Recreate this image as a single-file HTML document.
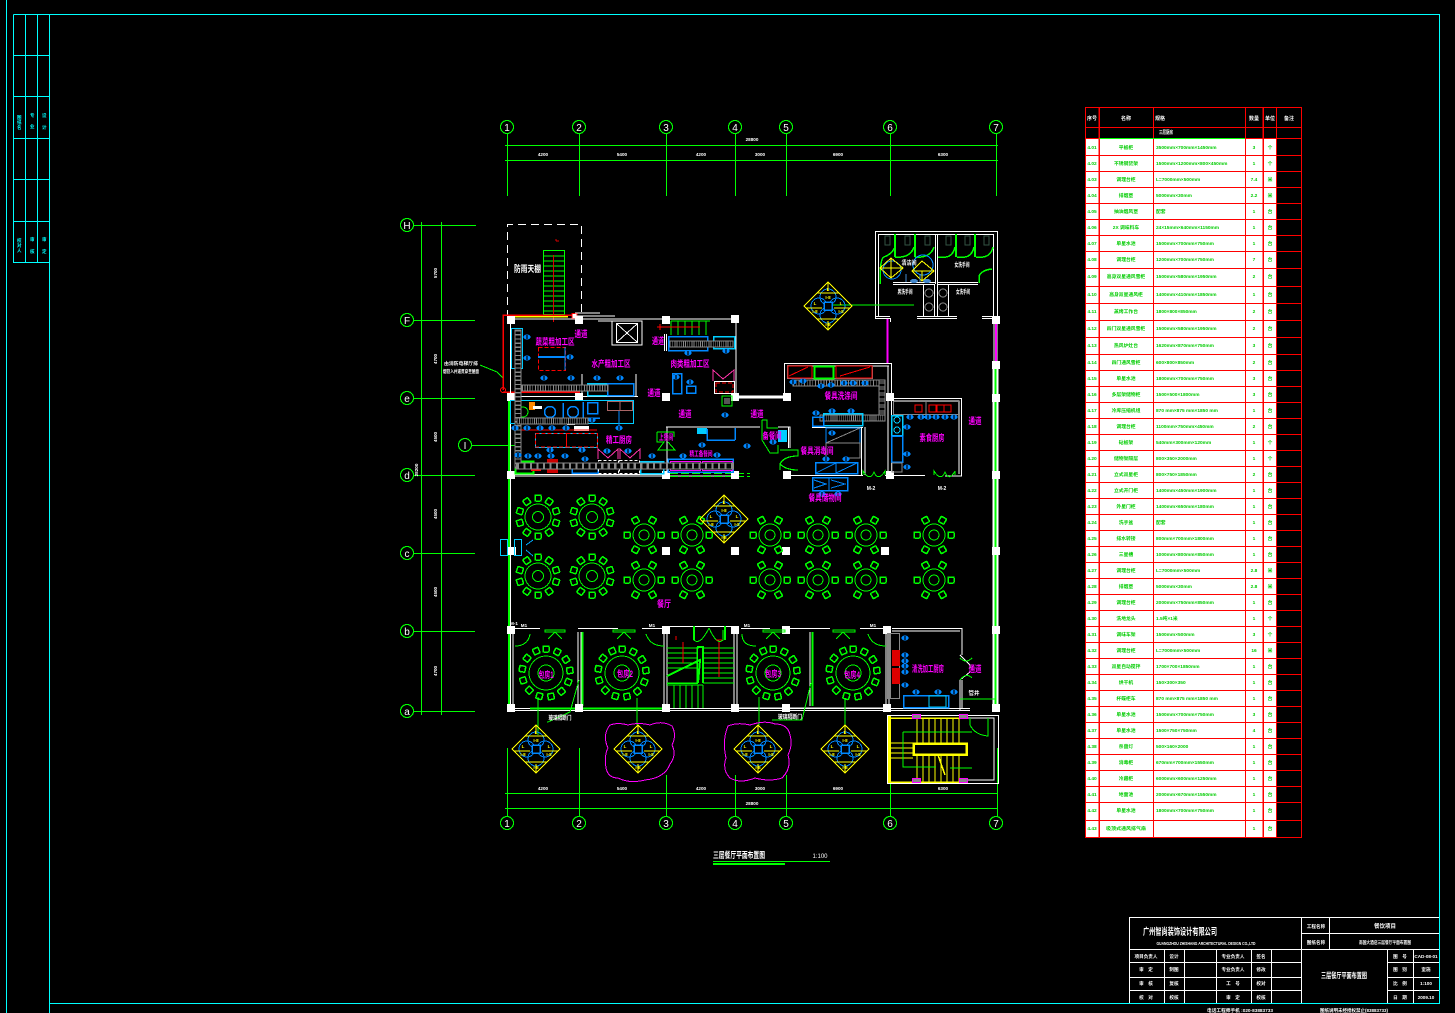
<!DOCTYPE html>
<html><head><meta charset="utf-8"><style>
html,body{margin:0;padding:0;background:#000}
svg{display:block}
text{font-family:"Liberation Sans","Noto Sans CJK SC",sans-serif;stroke:none}
.m{fill:#f0f;font-size:9px;font-weight:700;text-anchor:middle}
.w{fill:#fff;font-size:4.6px;font-weight:700;text-anchor:middle}
.g{fill:#0c0;font-size:4.8px;font-weight:700}
.c{text-anchor:middle}
.a{fill:#fff;font-size:10px;text-anchor:middle}
.y{fill:#ff0;font-size:4.5px;font-weight:700;text-anchor:middle}
</style></head><body>
<svg xmlns="http://www.w3.org/2000/svg" width="1455" height="1013" viewBox="0 0 1455 1013" shape-rendering="crispEdges" fill="none">
<defs>
<g id="s"><ellipse rx="3.5" ry="2.5" fill="#08f"/><rect x="-1" y="-2" width="2" height="4" fill="#036"/></g>
<g id="ladh"><rect x="0" y="0" width="100" height="6" fill="#000" stroke="#888"/><path d="M0 3H100" stroke="#888" stroke-width="5" stroke-dasharray="1 2"/></g>
<g id="ch" ><rect x="-3" y="-3" width="6" height="6" rx="1" stroke="#0f0" stroke-width="1.5"/></g>
<g id="t10"><circle r="13" stroke="#0f0"/><circle r="5.5" stroke="#0f0"/>
<use href="#ch" transform="rotate(0) translate(0,-19)"/><use href="#ch" transform="rotate(36) translate(0,-19)"/><use href="#ch" transform="rotate(72) translate(0,-19)"/><use href="#ch" transform="rotate(108) translate(0,-19)"/><use href="#ch" transform="rotate(144) translate(0,-19)"/><use href="#ch" transform="rotate(180) translate(0,-19)"/><use href="#ch" transform="rotate(216) translate(0,-19)"/><use href="#ch" transform="rotate(252) translate(0,-19)"/><use href="#ch" transform="rotate(288) translate(0,-19)"/><use href="#ch" transform="rotate(324) translate(0,-19)"/></g>
<g id="t8"><circle r="11" stroke="#0f0"/><circle r="5" stroke="#0f0"/>
<use href="#ch" transform="rotate(30) translate(0,-17)"/><use href="#ch" transform="rotate(90) translate(0,-17)"/><use href="#ch" transform="rotate(150) translate(0,-17)"/><use href="#ch" transform="rotate(210) translate(0,-17)"/><use href="#ch" transform="rotate(270) translate(0,-17)"/><use href="#ch" transform="rotate(330) translate(0,-17)"/></g>
<g id="t12"><circle r="17" stroke="#0f0"/><circle r="8" stroke="#0f0"/>
<use href="#ch" transform="rotate(0) translate(0,-24)"/><use href="#ch" transform="rotate(28) translate(0,-24)"/><use href="#ch" transform="rotate(56) translate(0,-24)"/><use href="#ch" transform="rotate(84) translate(0,-24)"/><use href="#ch" transform="rotate(112) translate(0,-24)"/><use href="#ch" transform="rotate(140) translate(0,-24)"/><use href="#ch" transform="rotate(168) translate(0,-24)"/><use href="#ch" transform="rotate(196) translate(0,-24)"/><use href="#ch" transform="rotate(224) translate(0,-24)"/><use href="#ch" transform="rotate(252) translate(0,-24)"/><use href="#ch" transform="rotate(280) translate(0,-24)"/><use href="#ch" transform="rotate(308) translate(0,-24)"/><use href="#ch" transform="rotate(336) translate(0,-24)"/></g>
<g id="dia"><circle cx="-9" cy="0" r="8" stroke="#08f"/><circle cx="9" cy="0" r="8" stroke="#08f"/><circle cx="0" cy="-9" r="8" stroke="#08f"/><circle cx="0" cy="9" r="8" stroke="#08f"/><rect x="-4" y="-4" width="8" height="8" fill="#000" stroke="#08f" stroke-width="1.5"/>
<polygon points="0,-24 24,0 0,24 -24,0" stroke="#ff0"/><path d="M-11 -13H11M-11 13H11M-22 2H-6M6 2H22M0 -24V-15M0 15V24" stroke="#ff0"/>
<text class="y" x="0" y="-15">L</text><text class="y" x="0" y="-7">I-8</text><text class="y" x="-13" y="-1">L</text><text class="y" x="-13" y="7">I-8</text><text class="y" x="13" y="-1">L</text><text class="y" x="13" y="7">I-8</text><text class="y" x="0" y="20">I-8</text></g>
<g id="col"><rect x="-4" y="-4" width="8" height="8" fill="#fff"/></g>
<g id="ax"><circle r="6.5" stroke="#0f0" stroke-width="1.2"/></g>
</defs>
<rect width="1455" height="1013" fill="#000"/>

<!-- outer frame -->
<g stroke="#0ff">
<path d="M6.5 0V1013M13.5 14.5H1439.5V1003.5H49.5M49.5 14.5V1013M13.5 14.5V262.5H49.5M25.5 14.5V262.5M37.5 14.5V262.5M13.5 55.5H49.5M13.5 96.5H49.5M13.5 138.5H49.5M13.5 179.5H49.5M13.5 221.5H49.5"/>
</g>
<g font-size="4.5" font-weight="700">
<text x="17" y="119" style="fill:#0ff">图</text><text x="17" y="124" style="fill:#0ff">纸</text><text x="17" y="129" style="fill:#0ff">名</text><text x="30" y="117" style="fill:#0ff">专</text><text x="30" y="128" style="fill:#0ff">业</text><text x="42" y="117" style="fill:#0ff">设</text><text x="42" y="129" style="fill:#0ff">计</text>
<text x="17" y="242" style="fill:#0ff">校</text><text x="17" y="247" style="fill:#0ff">对</text><text x="17" y="252" style="fill:#0ff">人</text><text x="30" y="241" style="fill:#0ff">审</text><text x="30" y="253" style="fill:#0ff">核</text><text x="42" y="241" style="fill:#0ff">审</text><text x="42" y="253" style="fill:#0ff">定</text>
</g>

<!-- axes -->
<g stroke="#0f0">
<path d="M505 145.5H998M505 160.5H998M505 793.5H998M505 808.5H998"/>
<path d="M507.5 134V196M579.5 134V196M666.5 134V196M735.5 134V196M786.5 134V196M890.5 134V196M996.5 134V196"/>
<path d="M507.5 748V816M579.5 748V816M666.5 775V816M735.5 775V816M786.5 775V816M890.5 783V816M997.5 748V816"/>
<path d="M414 225.5H476M414 320.5H475M414 398.5H475M414 475.5H475M414 553.5H475M414 631.5H475M414 711.5H475"/>
<path d="M421.5 222V715M441.5 222V715"/>
<path d="M472 445.5H515" stroke-width="1"/>
</g>
<g>
<use href="#ax" x="507" y="127"/><use href="#ax" x="579" y="127"/><use href="#ax" x="666" y="127"/><use href="#ax" x="735" y="127"/><use href="#ax" x="786" y="127"/><use href="#ax" x="890" y="127"/><use href="#ax" x="996" y="127"/>
<use href="#ax" x="507" y="823"/><use href="#ax" x="579" y="823"/><use href="#ax" x="666" y="823"/><use href="#ax" x="735" y="823"/><use href="#ax" x="786" y="823"/><use href="#ax" x="890" y="823"/><use href="#ax" x="996" y="823"/>
<use href="#ax" x="407" y="225"/><use href="#ax" x="407" y="320"/><use href="#ax" x="407" y="398"/><use href="#ax" x="407" y="475"/><use href="#ax" x="407" y="553"/><use href="#ax" x="407" y="631"/><use href="#ax" x="407" y="711"/>
<use href="#ax" x="465" y="445"/>
</g>
<g class="a">
<text class="a" x="507" y="131">1</text><text class="a" x="579" y="131">2</text><text class="a" x="666" y="131">3</text><text class="a" x="735" y="131">4</text><text class="a" x="786" y="131">5</text><text class="a" x="890" y="131">6</text><text class="a" x="996" y="131">7</text>
<text class="a" x="507" y="827">1</text><text class="a" x="579" y="827">2</text><text class="a" x="666" y="827">3</text><text class="a" x="735" y="827">4</text><text class="a" x="786" y="827">5</text><text class="a" x="890" y="827">6</text><text class="a" x="996" y="827">7</text>
<text class="a" x="407" y="229">H</text><text class="a" x="407" y="324">F</text><text class="a" x="407" y="402">e</text><text class="a" x="407" y="479">d</text><text class="a" x="407" y="557">c</text><text class="a" x="407" y="635">b</text><text class="a" x="407" y="715">a</text><text class="a" x="465" y="449">I</text>
</g>
<g class="w">
<text class="w" x="752" y="141">28800</text>
<text class="w" x="543" y="156">4200</text><text class="w" x="622" y="156">5400</text><text class="w" x="701" y="156">4200</text><text class="w" x="760" y="156">3000</text><text class="w" x="838" y="156">6900</text><text class="w" x="943" y="156">6300</text>
<text class="w" x="543" y="790">4200</text><text class="w" x="622" y="790">5400</text><text class="w" x="701" y="790">4200</text><text class="w" x="760" y="790">3000</text><text class="w" x="838" y="790">6900</text><text class="w" x="943" y="790">6300</text>
<text class="w" x="752" y="805">28800</text>
<text class="w" transform="translate(437,273) rotate(-90)">5700</text><text class="w" transform="translate(437,359) rotate(-90)">4700</text><text class="w" transform="translate(437,437) rotate(-90)">4500</text><text class="w" transform="translate(437,514) rotate(-90)">4500</text><text class="w" transform="translate(437,592) rotate(-90)">4500</text><text class="w" transform="translate(437,671) rotate(-90)">4700</text><text class="w" transform="translate(418,470) rotate(-90)">28200</text>
<text class="w" x="461" y="365" textLength="34" lengthAdjust="spacingAndGlyphs">由消防电梯厅排</text><text class="w" x="461" y="373" textLength="36" lengthAdjust="spacingAndGlyphs">烟管入井道贯穿至屋面</text>
</g>
<path d="M480 365 L497 372 L503 378" stroke="#0f0"/>

<!-- fire stair outside -->
<g>
<path d="M507.5 318V224.5H581.5V318" stroke="#fff" stroke-dasharray="8 5"/>
<rect x="543.5" y="250.5" width="21" height="64" stroke="#0f0"/>
<path d="M544 256H565M544 261H565M544 266H565M544 271H565M544 276H565M544 281H565M544 286H565M544 291H565M544 296H565M544 301H565M544 306H565M544 311H565" stroke="#0f0"/>
<path d="M553.5 255V322M556 241H559M556 241V239" stroke="#d00"/>
<text x="527.5" y="272" style="fill:#fff;font-size:9px;font-weight:700" text-anchor="middle" textLength="27" lengthAdjust="spacingAndGlyphs">防雨天棚</text>
</g>

<!-- red routing -->
<path d="M503 390V315H573" stroke="#f00" stroke-width="1.5"/>
<path d="M511 316.5H568" stroke="#ff0" stroke-width="1.5"/>
<rect x="572" y="313.5" width="5" height="5" fill="#fff" stroke="#f00"/>
<circle cx="503" cy="390" r="2.5" stroke="#f00"/>
<path d="M503 392H580" stroke="#f00" stroke-width="1.5"/>

<!-- white walls -->
<g stroke="#fff">
<path d="M510.5 319H736V397M575 313H600M575 316H615M598 321H642V345H612V321"/>
<path d="M510.5 318V710"/>
<path d="M582 374V397M636 374V397M512 396.5H638"/>
<path d="M666.5 334V351M664.5 334V351"/>
<path d="M735 397.5H784M735 396H784" stroke-width="1.5"/>
<path d="M666 427H760M667 427V475M666 476H736M512 476H666M512 474.5H666"/>
<path d="M784.5 397V363.5H891.5V475M888 366V475M787 366H889"/>
<path d="M890 398.5H961.5V476H945M893 401H959V474M790 475.5H863M885 475.5H925"/>
<path d="M861.5 427V475M865 427V475M812 427.5H863"/>
<path d="M778 427H790V448M788.5 427V448"/>
<!-- restrooms -->
<path d="M875.5 318V231.5H997.5V318M878.5 316V234.5H993.5V316M935.5 234V284M937.5 234V284M893 284.5H935M937 284.5H978M893 282.5H935M937 282.5H978"/>
<path d="M875 318.5H890.5V322M875 316.5H890M917 318.5H957M917 316.5H957M982 318.5H997M982 316.5H997M923.5 285V316M934.5 285V316M948.5 285V316M937.5 285V316"/>
<!-- dining row -->
<path d="M512 628.5H540M578 628.5H618M642 628.5H666M666 626.5H735M741 628.5H770M786 628.5H830M860 628.5H885M892 628.5H962V655M960 631H892"/>
<path d="M664 632V708M667 632V708M734 632V708M737 632V708M886 632V708M889 632V708M960 680V710M962 680V708M960 655L970 665V668M960 680L970 672"/>
<path d="M512 710.5H885M512 708.5H885M885 710.5H970M885 708.5H970"/>
<path d="M513 632V708M737 708H885"/>
<path d="M994 320V708M997 320V708" stroke="#fff"/>
</g>
<path d="M578 632V706M581 632V706" stroke="#fff"/>
<path d="M582.5 632V706M812.5 632V706" stroke="#0f0" stroke-width="2"/>
<path d="M810 632V706" stroke="#fff"/>
<path d="M530 708.5H666" stroke="#0f0" stroke-width="2"/>
<path d="M509 400V710" stroke="#0f0" stroke-width="2"/>
<path d="M995.5 365V712" stroke="#0f0" stroke-width="2"/>
<path d="M998 365V712M993 365V712" stroke="#fff"/>
<path d="M670 473.5H750M670 476.5H750" stroke="#0f0" stroke-dasharray="8 3"/>
<path d="M887.5 319V363M996 322V363" stroke="#f0f" stroke-width="2"/>

<!-- columns -->
<g>
<use href="#col" x="511" y="320"/><use href="#col" x="579" y="320"/><use href="#col" x="666" y="320"/><use href="#col" x="735" y="319"/>
<use href="#col" x="511" y="397"/><use href="#col" x="579" y="397"/><use href="#col" x="666" y="397"/><use href="#col" x="735" y="397"/><use href="#col" x="787" y="397"/><use href="#col" x="890" y="397"/><use href="#col" x="996" y="398"/>
<use href="#col" x="511" y="475"/><use href="#col" x="666" y="475"/><use href="#col" x="735" y="475"/><use href="#col" x="787" y="475"/><use href="#col" x="890" y="475"/><use href="#col" x="996" y="475"/><use href="#col" x="996" y="365"/><use href="#col" x="996" y="320"/>
<use href="#col" x="511" y="630"/><use href="#col" x="666" y="630"/><use href="#col" x="735" y="630"/><use href="#col" x="786" y="630"/><use href="#col" x="887" y="630"/><use href="#col" x="996" y="630"/>
<use href="#col" x="511" y="708"/><use href="#col" x="579" y="708"/><use href="#col" x="666" y="708"/><use href="#col" x="735" y="708"/><use href="#col" x="786" y="708"/><use href="#col" x="887" y="708"/><use href="#col" x="996" y="708"/>
<use href="#col" x="666" y="551"/><use href="#col" x="735" y="551"/><use href="#col" x="786" y="551"/><use href="#col" x="885" y="551"/><use href="#col" x="996" y="551"/><use href="#col" x="512" y="551"/>
</g>

<!-- elevator -->
<rect x="616.5" y="323.5" width="21" height="19" stroke="#fff"/>
<path d="M617 324L637 342M637 324L617 342" stroke="#fff"/>

<!-- kitchen equipment upper left -->
<g stroke="#0cf">
<rect x="511.5" y="328.5" width="11" height="40"/>
<rect x="587.5" y="383.5" width="20" height="12" stroke-width="1.5"/>
<rect x="510.5" y="400.5" width="123" height="23"/>
<rect x="535.5" y="433.5" width="62" height="14"/>
<rect x="640.5" y="461.5" width="23" height="12" stroke-width="1.5"/>
<rect x="713.5" y="336.5" width="21" height="12" stroke-width="1.5"/>
</g>
<g stroke="#08f" stroke-width="1.5">
<rect x="607.5" y="383.5" width="26" height="12"/>
<rect x="668.5" y="336.5" width="39" height="14"/>
<rect x="672.5" y="373.5" width="9" height="20"/>
<rect x="686.5" y="386" width="9" height="7"/>
<rect x="587.5" y="402.5" width="10" height="11"/>
<path d="M538 418H600M583 402V418M563 403V418"/>
<circle cx="550" cy="412" r="5.5"/><circle cx="573" cy="412" r="5.5"/>
<rect x="572" y="463" width="26" height="10"/>
<rect x="668" y="459" width="65" height="13"/>
<rect x="697" y="428" width="10" height="6" fill="#0cf" stroke="none"/>
<path d="M707 429V440H735M735 428V440"/>
</g>
<g stroke="#f00" stroke-dasharray="4 2">
<rect x="538.5" y="347.5" width="27" height="23"/>
<rect x="535.5" y="433.5" width="31" height="13.5"/>
<rect x="566.5" y="433.5" width="31" height="13.5"/>
<rect x="716" y="383" width="17" height="9"/>
</g>
<path d="M538 357H565" stroke="#08f" stroke-width="2"/>
<path d="M565 347V370" stroke="#08f"/>
<rect x="547" y="459" width="11" height="14" fill="#c00"/>
<rect x="515.5" y="461.5" width="18" height="12" stroke="#0f0" stroke-width="2"/>
<rect x="531" y="467" width="10" height="4" fill="#f00"/>
<circle cx="523" cy="412" r="5" stroke="#0f0"/>
<rect x="529" y="402" width="6" height="8" fill="#f80"/>
<rect x="533" y="406" width="9" height="3" fill="#fff"/>
<rect x="607.5" y="401.5" width="25" height="9" stroke="#a66"/>
<path d="M620 401V410M619 410V430" stroke="#a66"/>
<path d="M619 411V426" stroke="#08f"/>
<rect x="574" y="426" width="15" height="5" fill="#fff"/>
<rect x="567" y="422" width="8" height="3" fill="#fff"/>
<path d="M519 430H597" stroke="#f00"/>
<rect x="598.5" y="460.5" width="20" height="13" stroke="#fff" stroke-dasharray="3 2"/>
<rect x="619.5" y="460.5" width="20" height="13" stroke="#fff" stroke-dasharray="3 2"/>
<path d="M598 459V449L608 458L618 449V459M620 459V449L630 458L640 449V459" stroke="#f3a"/>
<path d="M713 381V370L723 379L734 370V381" stroke="#f3a"/>
<rect x="714.5" y="381.5" width="20" height="12" stroke="#fff"/>
<g stroke="#f0f"><rect x="670.5" y="461.5" width="30" height="9"/><rect x="702.5" y="461.5" width="30" height="9"/></g>
<rect x="722" y="396" width="10" height="10" stroke="#0f0"/><rect x="724" y="398" width="6" height="6" fill="#555"/>

<!-- ladders (hoods) -->
<g>
<use href="#ladh" transform="translate(515,330) rotate(90) translate(0,-6) scale(1.38,1)"/>
<use href="#ladh" transform="translate(522,385) scale(.86,1)"/>
<use href="#ladh" transform="translate(517,418) scale(.71,1)"/>
<use href="#ladh" transform="translate(517,463) scale(2.16,1)"/>
<use href="#ladh" transform="translate(670,341) scale(.63,1)"/>
<use href="#ladh" transform="translate(793,380) scale(.92,1)"/>
<use href="#ladh" transform="translate(885,380) rotate(90) scale(.4,1)"/>
<use href="#ladh" transform="translate(820,415) scale(.65,1)"/>
</g>

<!-- green stairs inner -->
<path d="M671 321V335M678 321V335M685 321V335M692 321V335M699 321V335M706 321V335M671 321H710" stroke="#0f0"/>
<path d="M657 327H700M660 324V330" stroke="#f00"/>

<!-- washing room -->
<rect x="787.5" y="365.5" width="85" height="13" stroke="#888"/>
<rect x="788" y="366" width="24" height="12" stroke="#f00"/>
<rect x="814.5" y="366.5" width="19" height="12" stroke="#0f0" stroke-width="2"/>
<rect x="836" y="366" width="36" height="12" stroke="#f00"/>
<path d="M840 376L870 367M789 376L808 367" stroke="#f00"/>
<rect x="823.5" y="413.5" width="39" height="12" stroke="#0cf" stroke-width="1.5"/>
<rect x="812.5" y="417" width="11" height="9" stroke="#08f" stroke-width="1.5"/>
<rect x="826" y="428" width="34" height="15" stroke="#08f"/>
<path d="M826 443L860 428M826 443H860V458H845M826 443V456" stroke="#888"/>
<rect x="815.5" y="462.5" width="42" height="11" stroke="#08f" stroke-width="1.5"/>
<path d="M836 462V473M816 473L836 463M836 473L857 463" stroke="#08f"/>
<rect x="812.5" y="477.5" width="35" height="13" stroke="#08f" stroke-width="1.5"/>
<path d="M829 478V490M814 480L826 484L814 488M831 480L845 484L831 488" stroke="#08f"/>
<path d="M762 420H767V428L778 428M762 420V440L770 453H778V445" stroke="#0f0"/>
<rect x="778" y="430" width="9" height="12" fill="#0cf"/>
<path d="M780 450H798V456Q784 456 780 464Q786 470 798 470M780 464V470" stroke="#0f0" stroke-width="1.2"/>
<path d="M657 432H674V437M657 432V442H664L658 450H675L668 442" stroke="#0f0"/>

<!-- right kitchen -->
<rect x="893.5" y="401.5" width="65" height="13" stroke="#888"/>
<path d="M926 402V414" stroke="#888"/>
<g stroke="#f00"><rect x="915" y="405" width="7" height="7"/><rect x="929" y="405" width="7" height="7"/><rect x="937" y="405" width="7" height="7"/><rect x="944" y="405" width="7" height="7"/></g>
<rect x="891.5" y="415.5" width="11" height="20" stroke="#0cf" stroke-width="1.5"/>
<circle cx="897" cy="420" r="3" stroke="#0cf"/><circle cx="897" cy="430" r="3" stroke="#0cf"/>
<rect x="891.5" y="436" width="11" height="26" stroke="#08f" stroke-width="1.5"/>
<rect x="892" y="463" width="10" height="9" stroke="#888"/>

<!-- restroom fixtures -->
<g stroke="#0f0" stroke-width="1.5">
<path d="M895 234V257M915 234V257M956 234V257M975 234V257" stroke-width="2"/>
<path d="M880 284V272Q881 258 884 257Q892 254 895 247M895 257H901Q911 256 914 247M915 257H921Q931 256 934 247M938 257H946Q953 256 955 247M957 257H965Q972 256 974 247M976 257H983Q991 256 993 247" fill="none"/>
<path d="M979 283V276Q982 270 992 269"/>
</g>
<g stroke="#354"><rect x="885" y="236" width="5" height="9"/><rect x="905" y="236" width="5" height="9"/><rect x="925" y="236" width="5" height="9"/><rect x="946" y="236" width="5" height="9"/><rect x="965" y="236" width="5" height="9"/><rect x="984" y="236" width="5" height="9"/></g>
<g stroke="#888"><circle cx="929" cy="293" r="4"/><circle cx="929" cy="307" r="4"/><circle cx="943" cy="293" r="4"/><circle cx="943" cy="307" r="4"/></g>
<circle cx="892" cy="270" r="9" stroke="#08f"/><circle cx="923" cy="265" r="10" stroke="#08f"/>
<polygon points="891,258 903,268 891,278 880,268" stroke="#ff0"/><polygon points="922,261 934,271 922,281 912,271" stroke="#ff0"/>
<path d="M881 268H902M913 271H933M891 258V278M922 271V281" stroke="#ff0"/>
<ellipse cx="914" cy="281" rx="4" ry="2" fill="#48c"/><ellipse cx="927" cy="281" rx="4" ry="2" fill="#48c"/><path d="M906 274V282M920 274V282" stroke="#48c"/>

<!-- doors -->
<g stroke="#0f0">
<path d="M863 475V471Q870 482 874 472Q878 482 885 471V475M934 475V471Q941 482 945 472Q949 482 955 471V475"/>
<path d="M545 630H565V632H545ZM613 630H635V632H613ZM763 630H785V632H763ZM833 630H855V632H833Z" stroke-width="1"/>
<path d="M555 632L548 639M555 632L562 639M624 632L617 639M624 632L631 639M773 632L766 639M773 632L780 639M843 632L836 639M843 632L850 639"/>
<path d="M530 634Q528 646 515 646M646 634Q650 646 664 646M742 634Q742 646 756 646M868 634Q872 646 886 646"/>
<path d="M694 630V640Q700 646 709 628M723 630V640Q717 646 709 628" />
<path d="M694 626V640M725 626V640" stroke-width="2"/>
<path d="M538 697V735M637 698V725M759 697V725M845 698V725"/>
<path d="M579 680L570 712L548 722H547M811 683L802 720H772"/>
<path d="M833 305H914" stroke-width="1"/>
<path d="M960 699H996" stroke-width="1"/>
<path d="M960 658Q966 664 972 658M972 678Q966 672 960 680"/>
</g>

<!-- stair middle -->
<g stroke="#0f0">
<path d="M667 648H699M667 653H698M667 658H698M667 663H697M667 668H697M703 648H734M703 653H734M703 658H734M703 663H734M703 668H734M703 673H734M703 678H734M703 683H734"/>
<path d="M697 647V683H667M703 647V683" stroke-width="1.5"/>
<path d="M667 676L700 660L698 683" stroke-width="2"/>
<path d="M674 685V708M680 685V708M686 685V708M692 685V708M698 685V708M703 685V708M667 685H703" />
<path d="M697 647H703V683" stroke-width="2"/>
</g>
<path d="M683 642V663M719 642V677M676 636V640M716 640H722" stroke="#f00"/>

<!-- tables -->
<g>
<use href="#t10" x="538" y="517"/><use href="#t10" x="592" y="517"/><use href="#t10" x="538" y="576"/><use href="#t10" x="592" y="576"/>
<use href="#t8" x="644" y="535"/><use href="#t8" x="692" y="535"/><use href="#t8" x="770" y="535"/><use href="#t8" x="818" y="535"/><use href="#t8" x="866" y="535"/><use href="#t8" x="934" y="535"/>
<use href="#t8" x="644" y="580"/><use href="#t8" x="692" y="580"/><use href="#t8" x="770" y="580"/><use href="#t8" x="818" y="580"/><use href="#t8" x="866" y="580"/><use href="#t8" x="934" y="580"/>
<use href="#t12" x="546" y="673"/><use href="#t12" x="622" y="673"/><use href="#t12" x="773" y="673"/><use href="#t12" x="853" y="673"/>
</g>

<!-- entry door -->
<g stroke="#0cf"><rect x="500.5" y="539.5" width="7" height="16"/><rect x="514.5" y="539.5" width="7" height="16"/><path d="M526 545L533 540M526 550L533 556" stroke="#0af"/></g>

<!-- diamonds -->
<g>
<use href="#dia" x="828" y="306"/><use href="#dia" x="536" y="749"/><use href="#dia" x="638" y="749"/><use href="#dia" x="758" y="749"/><use href="#dia" x="845" y="749"/><use href="#dia" x="724" y="519"/>
</g>

<!-- clouds -->
<path d="M610 725Q618 722 628 725Q640 722 650 725Q662 720 672 726Q677 735 672 745Q677 755 670 764Q665 778 645 780Q630 784 618 778Q608 778 606 768Q604 755 608 748Q602 735 610 725Z" stroke="#f0f"/>
<path d="M728 726Q738 722 750 725Q765 720 775 724Q788 724 790 735Q793 745 788 755Q792 768 782 778Q770 782 755 778Q740 784 730 778Q722 770 726 758Q722 740 728 726Z" stroke="#f0f"/>

<!-- stair SE -->
<g stroke="#ff0">
<path d="M917 718V783M923 718V783M929 718V783M935 718V783M941 718V783M947 718V783M953 718V783M959 718V783M891 743H913M891 748H913M891 753H913M891 758H913"/>
<rect x="913.5" y="743.5" width="53" height="11" stroke-width="2.5" fill="#000"/>
<rect x="887" y="716" width="4" height="67" fill="#ff0" stroke="none"/>
<path d="M889 782H963M891 718H963M938 755L945 775" stroke-width="1.5"/>
</g>
<rect x="887.5" y="715.5" width="111" height="68" stroke="#fff"/>
<path d="M965 718H994V780H965" stroke="#fff"/>
<g fill="#888" stroke="#f0f"><rect x="912.5" y="714.5" width="8" height="4"/><rect x="959.5" y="714.5" width="8" height="4"/><rect x="912.5" y="778.5" width="8" height="4"/><rect x="959.5" y="778.5" width="8" height="4"/></g>
<path d="M903 732H972M903 732V767H936M950 768H972" stroke="#0f0"/>
<path d="M970 718V725Q975 735 988 736V718" stroke="#0f0"/>

<!-- right lower kitchen -->
<rect x="887.5" y="633.5" width="12" height="65" stroke="#888"/>
<rect x="888" y="633" width="3" height="65" fill="#888"/>
<rect x="892" y="650" width="8" height="16" fill="#d00"/><rect x="892" y="668" width="8" height="16" fill="#d00"/>
<rect x="903.5" y="695.5" width="45" height="12" stroke="#08f" stroke-width="1.5"/>
<rect x="929" y="696" width="17" height="11" stroke="#0cf"/>

<!-- stools -->
<g>
<use href="#s" x="527" y="337"/><use href="#s" x="527" y="358"/><use href="#s" x="570" y="357"/><use href="#s" x="544" y="378"/><use href="#s" x="571" y="378"/><use href="#s" x="597" y="378"/><use href="#s" x="620" y="378"/><use href="#s" x="688" y="353"/><use href="#s" x="726" y="351"/><use href="#s" x="676" y="377"/><use href="#s" x="690" y="382"/><use href="#s" x="725" y="415"/>
<use href="#s" x="515" y="428"/><use href="#s" x="527" y="428"/><use href="#s" x="540" y="428"/><use href="#s" x="552" y="428"/><use href="#s" x="566" y="428"/><use href="#s" x="592" y="420"/><use href="#s" x="619" y="428"/><use href="#s" x="550" y="450"/><use href="#s" x="582" y="450"/><use href="#s" x="518" y="455"/><use href="#s" x="528" y="456"/><use href="#s" x="538" y="456"/><use href="#s" x="551" y="456"/><use href="#s" x="565" y="456"/><use href="#s" x="585" y="459"/><use href="#s" x="607" y="451"/><use href="#s" x="628" y="451"/><use href="#s" x="652" y="456"/>
<use href="#s" x="702" y="445"/><use href="#s" x="683" y="456"/><use href="#s" x="717" y="455"/><use href="#s" x="747" y="446"/>
<use href="#s" x="793" y="382"/><use href="#s" x="803" y="381"/><use href="#s" x="821" y="386"/><use href="#s" x="831" y="385"/><use href="#s" x="844" y="383"/><use href="#s" x="853" y="383"/><use href="#s" x="865" y="383"/>
<use href="#s" x="816" y="413"/><use href="#s" x="832" y="411"/><use href="#s" x="851" y="411"/><use href="#s" x="832" y="433"/><use href="#s" x="826" y="459"/><use href="#s" x="846" y="459"/><use href="#s" x="822" y="494"/><use href="#s" x="838" y="494"/>
<use href="#s" x="910" y="417"/><use href="#s" x="921" y="417"/><use href="#s" x="928" y="417"/><use href="#s" x="936" y="417"/><use href="#s" x="945" y="417"/><use href="#s" x="954" y="417"/><use href="#s" x="907" y="427"/><use href="#s" x="907" y="454"/><use href="#s" x="907" y="467"/><use href="#s" x="773" y="442"/>
<use href="#s" x="905" y="638"/><use href="#s" x="905" y="655"/><use href="#s" x="905" y="661"/><use href="#s" x="905" y="666"/><use href="#s" x="905" y="672"/><use href="#s" x="905" y="685"/><use href="#s" x="916" y="692"/><use href="#s" x="938" y="692"/><use href="#s" x="954" y="692"/>
</g>

<!-- labels magenta -->
<g>
<text class="m" x="555" y="345" textLength="39" lengthAdjust="spacingAndGlyphs">蔬菜粗加工区</text>
<text class="m" x="611" y="367" textLength="39" lengthAdjust="spacingAndGlyphs">水产粗加工区</text>
<text class="m" x="690" y="367" textLength="39" lengthAdjust="spacingAndGlyphs">肉类粗加工区</text>
<text class="m" x="581" y="337" textLength="13" lengthAdjust="spacingAndGlyphs">通道</text>
<text class="m" x="658" y="344" textLength="12" lengthAdjust="spacingAndGlyphs">通道</text>
<text class="m" x="654" y="396" textLength="13" lengthAdjust="spacingAndGlyphs">通道</text>
<text class="m" x="685" y="417" textLength="13" lengthAdjust="spacingAndGlyphs">通道</text>
<text class="m" x="757" y="417" textLength="13" lengthAdjust="spacingAndGlyphs">通道</text>
<text class="m" x="619" y="443" textLength="26" lengthAdjust="spacingAndGlyphs">精工厨房</text>
<text class="m" x="701" y="456" textLength="23" lengthAdjust="spacingAndGlyphs" style="font-size:7px">精工备餐间</text>
<text class="m" x="666" y="440" textLength="14" lengthAdjust="spacingAndGlyphs" style="font-size:8px">上餐间</text>
<text class="m" x="772" y="439" textLength="19" lengthAdjust="spacingAndGlyphs">备餐间</text>
<text class="m" x="841" y="399" textLength="33" lengthAdjust="spacingAndGlyphs">餐具洗涤间</text>
<text class="m" x="817" y="454" textLength="33" lengthAdjust="spacingAndGlyphs">餐具消毒间</text>
<text class="m" x="825" y="501" textLength="33" lengthAdjust="spacingAndGlyphs">餐具储物间</text>
<text class="m" x="932" y="441" textLength="25" lengthAdjust="spacingAndGlyphs">素食厨房</text>
<text class="m" x="975" y="424" textLength="13" lengthAdjust="spacingAndGlyphs">通道</text>
<text class="m" x="664" y="607" textLength="14" lengthAdjust="spacingAndGlyphs">餐厅</text>
<text class="m" x="546" y="678" textLength="15" lengthAdjust="spacingAndGlyphs">包房1</text>
<text class="m" x="625" y="677" textLength="16" lengthAdjust="spacingAndGlyphs">包房2</text>
<text class="m" x="773" y="677" textLength="16" lengthAdjust="spacingAndGlyphs">包房3</text>
<text class="m" x="852" y="678" textLength="16" lengthAdjust="spacingAndGlyphs">包房4</text>
<text class="m" x="928" y="672" textLength="32" lengthAdjust="spacingAndGlyphs">清洗加工厨房</text>
<text class="m" x="975" y="672" textLength="13" lengthAdjust="spacingAndGlyphs">通道</text>
</g>
<g class="w">
<text class="w" x="560" y="720" textLength="23" lengthAdjust="spacingAndGlyphs" style="font-size:6px">玻璃隔断门</text>
<text class="w" x="790" y="719" textLength="24" lengthAdjust="spacingAndGlyphs" style="font-size:6px">玻璃隔断门</text>
<text class="w" x="909" y="265" textLength="15" lengthAdjust="spacingAndGlyphs" style="font-size:6px">清洁间</text>
<text class="w" x="962" y="267" textLength="15" lengthAdjust="spacingAndGlyphs" style="font-size:6px">女洗手间</text>
<text class="w" x="905" y="294" textLength="15" lengthAdjust="spacingAndGlyphs" style="font-size:6px">男洗手间</text>
<text class="w" x="963" y="294" textLength="14" lengthAdjust="spacingAndGlyphs" style="font-size:6px">女洗手间</text>
<text class="w" x="871" y="490" style="font-size:5px">M-2</text>
<text class="w" x="942" y="490" style="font-size:5px">M-2</text>
<text class="w" x="514" y="625">M-1</text><text class="w" x="524" y="627">M1</text><text class="w" x="652" y="627">M1</text><text class="w" x="747" y="627">M1</text><text class="w" x="873" y="627">M1</text>
<text class="w" x="974" y="695" style="font-size:5.5px">管井</text>
</g>
<text x="739" y="858" class="a" style="font-size:8.5px;font-weight:700" textLength="52" lengthAdjust="spacingAndGlyphs">三层餐厅平面布置图</text>
<text x="820" y="858" class="a" style="font-size:6px">1:100</text>
<path d="M713 861.5H830" stroke="#0f0"/>
<path d="M713 864H785" stroke="#0f0" stroke-width="2"/>

<!-- schedule table -->
<rect x="1086" y="138" width="190" height="699" fill="#fff"/>
<g stroke="#f00">
<path d="M1085.5 107.5H1301.5V837.5H1085.5ZM1099 107V837M1153.5 107V837M1245.5 107V837M1263 107V837M1276.5 107V837"/>
<path d="M1085 127.5H1301M1085 138.5H1301M1085 155.5H1301M1085 171.5H1301M1085 187.5H1301M1085 203.5H1301M1085 219.5H1301M1085 235.5H1301M1085 251.5H1301M1085 268.5H1301M1085 286.5H1301M1085 303.5H1301M1085 320.5H1301M1085 337.5H1301M1085 354.5H1301M1085 370.5H1301M1085 386.5H1301M1085 402.5H1301M1085 418.5H1301M1085 434.5H1301M1085 450.5H1301M1085 466.5H1301M1085 482.5H1301M1085 498.5H1301M1085 514.5H1301M1085 530.5H1301M1085 546.5H1301M1085 562.5H1301M1085 578.5H1301M1085 594.5H1301M1085 610.5H1301M1085 626.5H1301M1085 642.5H1301M1085 658.5H1301M1085 674.5H1301M1085 690.5H1301M1085 706.5H1301M1085 722.5H1301M1085 738.5H1301M1085 754.5H1301M1085 770.5H1301M1085 786.5H1301M1085 802.5H1301M1085 820.5H1301"/>
<path d="M1099.5 107V837M1263.5 107V837" stroke-width="1"/>
</g>
<path d="M1099 138.5H1245" stroke="#0f0"/>
<g>
<text class="w" x="1092" y="120" style="font-size:5px">序号</text><text class="w" x="1126" y="120" style="font-size:5px">名称</text><text class="w" x="1160" y="120" style="font-size:5px">规格</text><text class="w" x="1254" y="120" style="font-size:5px">数量</text><text class="w" x="1270" y="120" style="font-size:5px">单位</text><text class="w" x="1289" y="120" style="font-size:5px">备注</text>
<text class="w" x="1166" y="134" textLength="14" lengthAdjust="spacingAndGlyphs" style="font-size:5px">三层厨房</text>
</g>
<g class="g">
<text class="g c" x="1092" y="149">4.01</text><text class="g c" x="1126" y="149">平板柜</text><text class="g" x="1156" y="149">3500mm×700mm×1450mm</text><text class="g c" x="1254" y="149">3</text><text class="g c" x="1270" y="149">个</text>
<text class="g c" x="1092" y="165">4.02</text><text class="g c" x="1126" y="165">不锈钢货架</text><text class="g" x="1156" y="165">1500mm×1200mm×800×450mm</text><text class="g c" x="1254" y="165">1</text><text class="g c" x="1270" y="165">个</text>
<text class="g c" x="1092" y="181">4.03</text><text class="g c" x="1126" y="181">调理台柜</text><text class="g" x="1156" y="181">L=7000mm×500mm</text><text class="g c" x="1254" y="181">7.4</text><text class="g c" x="1270" y="181">米</text>
<text class="g c" x="1092" y="197">4.04</text><text class="g c" x="1126" y="197">排烟罩</text><text class="g" x="1156" y="197">5000mm×30mm</text><text class="g c" x="1254" y="197">2.2</text><text class="g c" x="1270" y="197">米</text>
<text class="g c" x="1092" y="213">4.05</text><text class="g c" x="1126" y="213">抽油烟风罩</text><text class="g" x="1156" y="213">配套</text><text class="g c" x="1254" y="213">1</text><text class="g c" x="1270" y="213">台</text>
<text class="g c" x="1092" y="229">4.06</text><text class="g c" x="1126" y="229">2X 调味料车</text><text class="g" x="1156" y="229">24×15mm×640mm×1150mm</text><text class="g c" x="1254" y="229">1</text><text class="g c" x="1270" y="229">台</text>
<text class="g c" x="1092" y="245">4.07</text><text class="g c" x="1126" y="245">单星水池</text><text class="g" x="1156" y="245">1500mm×700mm×750mm</text><text class="g c" x="1254" y="245">1</text><text class="g c" x="1270" y="245">台</text>
<text class="g c" x="1092" y="261">4.08</text><text class="g c" x="1126" y="261">调理台柜</text><text class="g" x="1156" y="261">1200mm×700mm×750mm</text><text class="g c" x="1254" y="261">7</text><text class="g c" x="1270" y="261">台</text>
<text class="g c" x="1092" y="278">4.09</text><text class="g c" x="1126" y="278">高身双星通风雪柜</text><text class="g" x="1156" y="278">1500mm×580mm×1950mm</text><text class="g c" x="1254" y="278">2</text><text class="g c" x="1270" y="278">台</text>
<text class="g c" x="1092" y="296">4.10</text><text class="g c" x="1126" y="296">高身双星通风柜</text><text class="g" x="1156" y="296">1400mm×410mm×1850mm</text><text class="g c" x="1254" y="296">1</text><text class="g c" x="1270" y="296">台</text>
<text class="g c" x="1092" y="313">4.11</text><text class="g c" x="1126" y="313">蒸烤工作台</text><text class="g" x="1156" y="313">1800×800×850mm</text><text class="g c" x="1254" y="313">2</text><text class="g c" x="1270" y="313">台</text>
<text class="g c" x="1092" y="330">4.12</text><text class="g c" x="1126" y="330">四门双星通风雪柜</text><text class="g" x="1156" y="330">1500mm×580mm×1950mm</text><text class="g c" x="1254" y="330">2</text><text class="g c" x="1270" y="330">台</text>
<text class="g c" x="1092" y="347">4.13</text><text class="g c" x="1126" y="347">热风炉灶台</text><text class="g" x="1156" y="347">1620mm×870mm×750mm</text><text class="g c" x="1254" y="347">3</text><text class="g c" x="1270" y="347">台</text>
<text class="g c" x="1092" y="364">4.14</text><text class="g c" x="1126" y="364">四门通风雪柜</text><text class="g" x="1156" y="364">600×800×850mm</text><text class="g c" x="1254" y="364">2</text><text class="g c" x="1270" y="364">台</text>
<text class="g c" x="1092" y="380">4.15</text><text class="g c" x="1126" y="380">单星水池</text><text class="g" x="1156" y="380">1800mm×700mm×750mm</text><text class="g c" x="1254" y="380">3</text><text class="g c" x="1270" y="380">台</text>
<text class="g c" x="1092" y="396">4.16</text><text class="g c" x="1126" y="396">多层架储物柜</text><text class="g" x="1156" y="396">1500×500×1800mm</text><text class="g c" x="1254" y="396">3</text><text class="g c" x="1270" y="396">台</text>
<text class="g c" x="1092" y="412">4.17</text><text class="g c" x="1126" y="412">冷库压缩机组</text><text class="g" x="1156" y="412">870 mm×875 mm×1850 mm</text><text class="g c" x="1254" y="412">1</text><text class="g c" x="1270" y="412">台</text>
<text class="g c" x="1092" y="428">4.18</text><text class="g c" x="1126" y="428">调理台柜</text><text class="g" x="1156" y="428">1100mm×750mm×450mm</text><text class="g c" x="1254" y="428">2</text><text class="g c" x="1270" y="428">台</text>
<text class="g c" x="1092" y="444">4.19</text><text class="g c" x="1126" y="444">砧板架</text><text class="g" x="1156" y="444">540mm×300mm×120mm</text><text class="g c" x="1254" y="444">1</text><text class="g c" x="1270" y="444">个</text>
<text class="g c" x="1092" y="460">4.20</text><text class="g c" x="1126" y="460">储物架隔层</text><text class="g" x="1156" y="460">800×350×2000mm</text><text class="g c" x="1254" y="460">1</text><text class="g c" x="1270" y="460">个</text>
<text class="g c" x="1092" y="476">4.21</text><text class="g c" x="1126" y="476">立式双星柜</text><text class="g" x="1156" y="476">800×750×1850mm</text><text class="g c" x="1254" y="476">2</text><text class="g c" x="1270" y="476">台</text>
<text class="g c" x="1092" y="492">4.22</text><text class="g c" x="1126" y="492">立式开门柜</text><text class="g" x="1156" y="492">1400mm×450mm×1900mm</text><text class="g c" x="1254" y="492">1</text><text class="g c" x="1270" y="492">台</text>
<text class="g c" x="1092" y="508">4.23</text><text class="g c" x="1126" y="508">外星门柜</text><text class="g" x="1156" y="508">1400mm×650mm×180mm</text><text class="g c" x="1254" y="508">1</text><text class="g c" x="1270" y="508">台</text>
<text class="g c" x="1092" y="524">4.24</text><text class="g c" x="1126" y="524">洗手盆</text><text class="g" x="1156" y="524">配套</text><text class="g c" x="1254" y="524">1</text><text class="g c" x="1270" y="524">台</text>
<text class="g c" x="1092" y="540">4.25</text><text class="g c" x="1126" y="540">排水转接</text><text class="g" x="1156" y="540">800mm×700mm×1800mm</text><text class="g c" x="1254" y="540">1</text><text class="g c" x="1270" y="540">台</text>
<text class="g c" x="1092" y="556">4.26</text><text class="g c" x="1126" y="556">三星槽</text><text class="g" x="1156" y="556">1000mm×800mm×850mm</text><text class="g c" x="1254" y="556">1</text><text class="g c" x="1270" y="556">台</text>
<text class="g c" x="1092" y="572">4.27</text><text class="g c" x="1126" y="572">调理台柜</text><text class="g" x="1156" y="572">L=7000mm×500mm</text><text class="g c" x="1254" y="572">2.8</text><text class="g c" x="1270" y="572">米</text>
<text class="g c" x="1092" y="588">4.28</text><text class="g c" x="1126" y="588">排烟罩</text><text class="g" x="1156" y="588">5000mm×30mm</text><text class="g c" x="1254" y="588">2.8</text><text class="g c" x="1270" y="588">米</text>
<text class="g c" x="1092" y="604">4.29</text><text class="g c" x="1126" y="604">调理台柜</text><text class="g" x="1156" y="604">2000mm×750mm×850mm</text><text class="g c" x="1254" y="604">1</text><text class="g c" x="1270" y="604">台</text>
<text class="g c" x="1092" y="620">4.30</text><text class="g c" x="1126" y="620">洗地龙头</text><text class="g" x="1156" y="620">1.5吨×1米</text><text class="g c" x="1254" y="620">1</text><text class="g c" x="1270" y="620">个</text>
<text class="g c" x="1092" y="636">4.31</text><text class="g c" x="1126" y="636">调味车架</text><text class="g" x="1156" y="636">1500mm×500mm</text><text class="g c" x="1254" y="636">3</text><text class="g c" x="1270" y="636">个</text>
<text class="g c" x="1092" y="652">4.32</text><text class="g c" x="1126" y="652">调理台柜</text><text class="g" x="1156" y="652">L=7000mm×500mm</text><text class="g c" x="1254" y="652">16</text><text class="g c" x="1270" y="652">米</text>
<text class="g c" x="1092" y="668">4.33</text><text class="g c" x="1126" y="668">双星自动搅拌</text><text class="g" x="1156" y="668">1700×700×1850mm</text><text class="g c" x="1254" y="668">1</text><text class="g c" x="1270" y="668">台</text>
<text class="g c" x="1092" y="684">4.34</text><text class="g c" x="1126" y="684">烘干机</text><text class="g" x="1156" y="684">150×300×350</text><text class="g c" x="1254" y="684">1</text><text class="g c" x="1270" y="684">台</text>
<text class="g c" x="1092" y="700">4.35</text><text class="g c" x="1126" y="700">杯碟柜车</text><text class="g" x="1156" y="700">870 mm×875 mm×1850 mm</text><text class="g c" x="1254" y="700">1</text><text class="g c" x="1270" y="700">台</text>
<text class="g c" x="1092" y="716">4.36</text><text class="g c" x="1126" y="716">单星水池</text><text class="g" x="1156" y="716">1500mm×700mm×750mm</text><text class="g c" x="1254" y="716">3</text><text class="g c" x="1270" y="716">台</text>
<text class="g c" x="1092" y="732">4.37</text><text class="g c" x="1126" y="732">单星水池</text><text class="g" x="1156" y="732">1500×750×750mm</text><text class="g c" x="1254" y="732">4</text><text class="g c" x="1270" y="732">台</text>
<text class="g c" x="1092" y="748">4.38</text><text class="g c" x="1126" y="748">杀菌灯</text><text class="g" x="1156" y="748">500×160×2000</text><text class="g c" x="1254" y="748">1</text><text class="g c" x="1270" y="748">台</text>
<text class="g c" x="1092" y="764">4.39</text><text class="g c" x="1126" y="764">消毒柜</text><text class="g" x="1156" y="764">670mm×700mm×1550mm</text><text class="g c" x="1254" y="764">1</text><text class="g c" x="1270" y="764">台</text>
<text class="g c" x="1092" y="780">4.40</text><text class="g c" x="1126" y="780">冷藏柜</text><text class="g" x="1156" y="780">6000mm×600mm×1250mm</text><text class="g c" x="1254" y="780">1</text><text class="g c" x="1270" y="780">台</text>
<text class="g c" x="1092" y="796">4.41</text><text class="g c" x="1126" y="796">地面池</text><text class="g" x="1156" y="796">2000mm×670mm×1550mm</text><text class="g c" x="1254" y="796">1</text><text class="g c" x="1270" y="796">台</text>
<text class="g c" x="1092" y="812">4.42</text><text class="g c" x="1126" y="812">单星水池</text><text class="g" x="1156" y="812">1800mm×700mm×750mm</text><text class="g c" x="1254" y="812">1</text><text class="g c" x="1270" y="812">台</text>
<text class="g c" x="1092" y="830">4.43</text><text class="g c" x="1126" y="830" textLength="40" lengthAdjust="spacingAndGlyphs">吸顶式通风排气扇</text><text class="g c" x="1254" y="830">1</text><text class="g c" x="1270" y="830">台</text>
</g>

<!-- title block -->
<g stroke="#fff">
<path d="M1129.5 1003V917.5H1439M1130 949.5H1439M1130 962.5H1301M1130 977.5H1301M1130 990.5H1301M1301.5 917V1003M1329.5 917V949M1301 933.5H1439"/>
<path d="M1164.5 949V1003M1184.5 949V1003M1216.5 949V1003M1251.5 949V1003M1271.5 949V1003M1387.5 949V1003M1413.5 949V1003M1387 962.5H1439M1387 977.5H1439M1387 990.5H1439"/>
</g>
<g>
<text x="1180" y="935" style="fill:#fff;font-size:9.5px;font-weight:700" text-anchor="middle" textLength="74" lengthAdjust="spacingAndGlyphs">广州智尚装饰设计有限公司</text>
<text x="1206" y="945" style="fill:#fff;font-size:4.6px;font-weight:700" text-anchor="middle" textLength="99" lengthAdjust="spacingAndGlyphs">GUANGZHOU ZHISHANG ARCHITECTURAL DESIGN CO.,LTD</text>
<text class="w" x="1316" y="928">工程名称</text><text class="w" x="1316" y="944">图纸名称</text>
<text class="w" x="1385" y="928" style="font-size:5.5px">餐饮项目</text><text class="w" x="1385" y="944" textLength="52" lengthAdjust="spacingAndGlyphs">南国大酒店三层餐厅平面布置图</text>
<text class="w" x="1146" y="958">项目负责人</text><text class="w" x="1146" y="971">审　定</text><text class="w" x="1146" y="985">审　核</text><text class="w" x="1146" y="999">校　对</text>
<text class="w" x="1174" y="958">设计</text><text class="w" x="1174" y="971">制图</text><text class="w" x="1174" y="985">复核</text><text class="w" x="1174" y="999">校核</text>
<text class="w" x="1233" y="958">专业负责人</text><text class="w" x="1233" y="971">专业负责人</text><text class="w" x="1233" y="985">工　号</text><text class="w" x="1233" y="999">审　定</text>
<text class="w" x="1261" y="958">签名</text><text class="w" x="1261" y="971">修改</text><text class="w" x="1261" y="985">校对</text><text class="w" x="1261" y="999">校核</text>
<text x="1344" y="978" style="fill:#fff;font-size:7.5px;font-weight:700" text-anchor="middle" textLength="46" lengthAdjust="spacingAndGlyphs">三层餐厅平面布置图</text>
<text class="w" x="1400" y="958">图　号</text><text class="w" x="1400" y="971">图　别</text><text class="w" x="1400" y="985">比　例</text><text class="w" x="1400" y="999">日　期</text>
<text class="w" x="1426" y="958">CAD-08-01</text><text class="w" x="1426" y="971">室施</text><text class="w" x="1426" y="985">1:100</text><text class="w" x="1426" y="999">2009.10</text>
<text class="w" x="1240" y="1012" textLength="66" lengthAdjust="spacingAndGlyphs">电话工程师手机 :020-83883733</text><text class="w" x="1354" y="1012" textLength="68" lengthAdjust="spacingAndGlyphs">图纸说明未经授权禁止(83883733)</text>
</g>
</svg>
</body></html>
